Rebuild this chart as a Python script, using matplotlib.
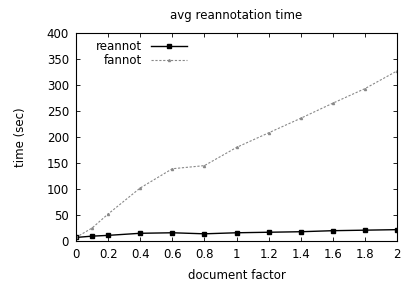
import matplotlib
matplotlib.use('Agg')
import matplotlib.pyplot as plt

plt.rcParams['font.family'] = 'DejaVu Sans'
plt.rcParams['font.size'] = 8.5

factor = [0, 0.1, 0.2, 0.4, 0.6, 0.8, 1.0, 1.2, 1.4, 1.6, 1.8, 2.0]
reannot = [7, 9.5, 11, 15, 16, 14, 16, 17, 18, 20, 21, 22]
fannot = [7, 25, 52, 102, 139, 145, 180, 208, 236, 265, 293, 327]

fig = plt.figure(figsize=(4.04, 2.86), dpi=100)
ax = fig.add_axes([0.188, 0.157, 0.795, 0.728])

ax.plot(factor, reannot, color='black', lw=1, marker='s', ms=3, label='reannot')
ax.plot(factor, fannot, color='#888888', lw=0.8, ls=(0, (2, 1.5)), marker='^', ms=1.5, label='fannot')

ax.set_xlim(0, 2)
ax.set_ylim(0, 400)
ax.set_xticks([0, 0.2, 0.4, 0.6, 0.8, 1, 1.2, 1.4, 1.6, 1.8, 2])
ax.set_xticklabels(['0', '0.2', '0.4', '0.6', '0.8', '1', '1.2', '1.4', '1.6', '1.8', '2'])
ax.set_yticks(range(0, 401, 50))
ax.tick_params(direction='in', top=True, right=True, length=3, width=0.6, pad=5)
for s in ax.spines.values():
    s.set_linewidth(0.8)

ax.set_title('avg reannotation time', fontsize=8.5, pad=10)
ax.set_xlabel('document factor', labelpad=6)
ax.set_ylabel('time (sec)', labelpad=14)

ax.legend(loc='upper left', frameon=False, markerfirst=False, handlelength=3.0,
          borderaxespad=0.2, labelspacing=0.1, bbox_to_anchor=(0.04, 1.0))

fig.savefig('out.png', dpi=100)
